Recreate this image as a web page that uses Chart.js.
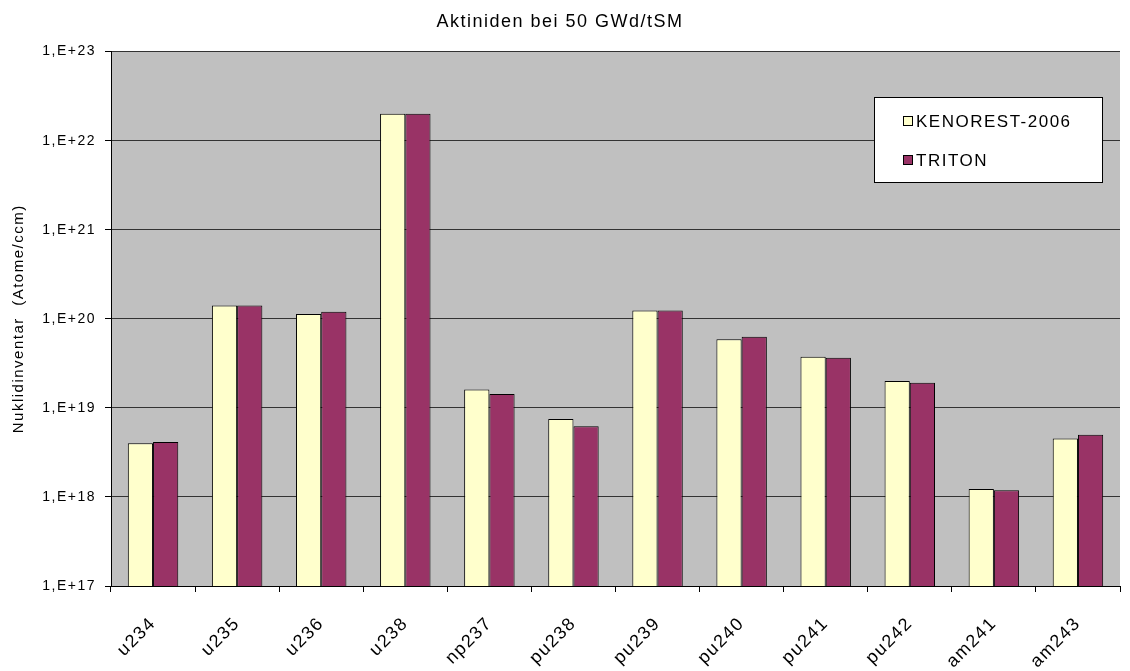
<!DOCTYPE html>
<html>
<head>
<meta charset="utf-8">
<script src="https://cdn.jsdelivr.net/npm/chart.js@4/dist/chart.umd.min.js"></script>
<style>
  html, body { margin: 0; padding: 0; background: #fff; }
  #wrap { width: 1130px; height: 671px; }
</style>
</head>
<body>
<div id="wrap"><canvas id="myChart" width="1130" height="671"></canvas></div>
<script>
const nuclides = ['u234', 'u235', 'u236', 'u238', 'np237', 'pu238', 'pu239', 'pu240', 'pu241', 'pu242', 'am241', 'am243'];
const kenorest = [4.0e18, 1.41e20, 1.13e20, 2.0e22, 1.61e19, 7.5e18, 1.24e20, 5.9e19, 3.74e19, 2.0e19, 1.23e18, 4.52e18];
const triton   = [4.15e18, 1.41e20, 1.2e20, 2.0e22, 1.43e19, 6.2e18, 1.24e20, 6.3e19, 3.65e19, 1.92e19, 1.19e18, 5.0e18];
const yTicks = [1e17, 1e18, 1e19, 1e20, 1e21, 1e22, 1e23];

const font = 'Liberation Sans, Arial, sans-serif';
const spacing = '1.5px';

// a little extra letter spacing for all the text
const wideText = {
    id: 'wideText',
    beforeUpdate(chart) { chart.ctx.letterSpacing = spacing; },
    beforeDraw(chart) { chart.ctx.letterSpacing = spacing; }
};

// grey plot background
const plotBg = {
    id: 'plotBg',
    beforeDraw(chart) {
        const a = chart.chartArea, c = chart.ctx;
        c.save();
        c.fillStyle = '#c0c0c0';
        c.fillRect(a.left, a.top, a.right - a.left, a.bottom - a.top);
        c.restore();
    }
};

// boxed legend inside the plot, top right
const boxLegend = {
    id: 'boxLegend',
    afterDraw(chart) {
        const c = chart.ctx;
        const x = 874, y = 97, w = 228, h = 85;
        c.save();
        c.fillStyle = '#fff';
        c.strokeStyle = '#000';
        c.lineWidth = 1;
        c.fillRect(x, y, w, h);
        c.strokeRect(x + 0.5, y + 0.5, w, h);
        c.font = '17px ' + font;
        c.textBaseline = 'middle';
        chart.data.datasets.forEach((ds, i) => {
            const cy = y + 24 + i * 39;
            c.fillStyle = ds.backgroundColor;
            c.fillRect(903, cy - 5, 9, 9);
            c.strokeStyle = '#000';
            c.strokeRect(903.5, cy - 4.5, 9, 9);
            c.fillStyle = '#000';
            c.fillText(ds.label, 916, cy + 1);
        });
        c.restore();
    }
};

const ctx = document.getElementById('myChart').getContext('2d');
const myChart = new Chart(ctx, {
    type: 'bar',
    data: {
        labels: nuclides,
        datasets: [{
            label: 'KENOREST-2006',
            data: kenorest,
            backgroundColor: '#ffffcc',
            borderColor: '#000',
            borderWidth: 1
        }, {
            label: 'TRITON',
            data: triton,
            backgroundColor: '#993366',
            borderColor: '#000',
            borderWidth: 1
        }]
    },
    options: {
        responsive: false,
        animation: false,
        layout: { padding: { left: 0, right: 10, top: 0, bottom: 0 } },
        datasets: {
            bar: { barPercentage: 1.0, categoryPercentage: 0.6 }
        },
        plugins: {
            legend: { display: false },
            tooltip: { enabled: false },
            title: {
                display: true,
                text: 'Aktiniden bei 50 GWd/tSM',
                color: '#000',
                font: { family: font, size: 18, weight: 'normal' },
                padding: { top: 11, bottom: 19 }
            }
        },
        scales: {
            x: {
                grid: {
                    offset: true,
                    drawOnChartArea: false,
                    color: '#000',
                    tickLength: 6,
                    tickColor: '#000'
                },
                border: { color: '#000', width: 1 },
                ticks: {
                    color: '#000',
                    font: { family: font, size: 18 },
                    minRotation: 45,
                    maxRotation: 45,
                    padding: 21
                },
                afterFit(scale) { scale.height = 85; }
            },
            y: {
                type: 'logarithmic',
                min: 1e17,
                max: 1e23,
                afterBuildTicks(scale) {
                    scale.ticks = yTicks.map(v => ({ value: v }));
                },
                grid: {
                    color: '#333',
                    lineWidth: 1,
                    tickLength: 6,
                    tickColor: '#000'
                },
                border: { color: '#000', width: 1 },
                ticks: {
                    color: '#000',
                    font: { family: font, size: 14 },
                    padding: 9,
                    callback(v) {
                        return '1,E+' + Math.round(Math.log10(v));
                    }
                },
                title: {
                    display: true,
                    text: 'Nuklidinventar  (Atome/ccm)',
                    color: '#000',
                    font: { family: font, size: 15 },
                    padding: { top: 10, bottom: 0 }
                },
                afterFit(scale) { scale.width = 111; }
            }
        }
    },
    plugins: [wideText, plotBg, boxLegend]
});
</script>
</body>
</html>
